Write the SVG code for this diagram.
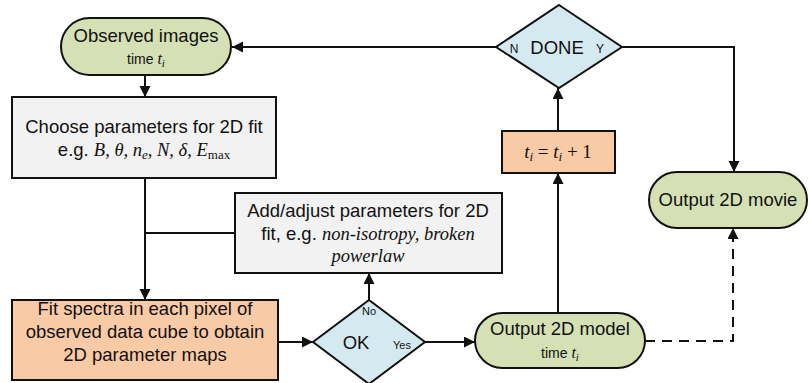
<svg xmlns="http://www.w3.org/2000/svg" width="811" height="383" viewBox="0 0 811 383">
<style>
.sh{stroke:#111;stroke-width:2}
.green{fill:#d5e0b5}
.orange{fill:#f9caa6}
.blue{fill:#d5eaf0}
.grey{fill:#f2f2f2}
text{font-family:"Liberation Sans",Arial,sans-serif;fill:#111;text-anchor:middle}
.t18{font-size:18.5px}
.t13{font-size:14px}
.s{font-family:"Liberation Serif","Times New Roman",serif}
.i{font-family:"Liberation Serif","Times New Roman",serif;font-style:italic}
.c{fill:none;stroke:#111;stroke-width:2}
.d{stroke-dasharray:10,7}
</style>
<defs>
<marker id="ah" markerUnits="userSpaceOnUse" markerWidth="12" markerHeight="12" refX="11" refY="5.5" orient="auto">
<path d="M0,0 L11,5.5 L0,11 z" fill="#111"/>
</marker>
</defs>
<g id="connectors">
<path class="c" d="M496,47 H232" marker-end="url(#ah)"/>
<path class="c" d="M145,75 V97" marker-end="url(#ah)"/>
<path class="c" d="M145,178 V300" marker-end="url(#ah)"/>
<path class="c" d="M145,233 H235"/>
<path class="c" d="M278,342 H313" marker-end="url(#ah)"/>
<path class="c" d="M369,300 V273" marker-end="url(#ah)"/>
<path class="c" d="M425,342 H475" marker-end="url(#ah)"/>
<path class="c" d="M558,313 V173" marker-end="url(#ah)"/>
<path class="c" d="M558,131 V88" marker-end="url(#ah)"/>
<path class="c" d="M622,47 H734 V172" marker-end="url(#ah)"/>
<path class="c d" d="M645,341 H733 V228" marker-end="url(#ah)"/>
</g>
<g id="observed">
<rect class="sh green" x="61" y="18" width="170" height="57" rx="28.5"/>
<text class="t18" x="146" y="42">Observed images</text>
<text class="t13" x="146" y="64">time <tspan class="i" font-size="16">t</tspan><tspan class="i" font-size="11" dy="3">i</tspan></text>
</g>
<g id="choose">
<rect class="sh grey" x="12" y="97" width="264" height="81"/>
<text class="t18" x="144" y="133">Choose parameters for 2D fit</text>
<text class="t18" x="144" y="156">e.g. <tspan class="i">B, θ, n</tspan><tspan class="i" font-size="13" dy="3">e</tspan><tspan class="i" dy="-3">, N, δ, E</tspan><tspan class="s" font-size="13" dy="3">max</tspan></text>
</g>
<g id="adjust">
<rect class="sh grey" x="235" y="193" width="267" height="80"/>
<text class="t18" x="368" y="217">Add/adjust parameters for 2D</text>
<text class="t18" x="368" y="240">fit, e.g. <tspan class="i">non-isotropy, broken</tspan></text>
<text class="t18 i" x="368" y="262">powerlaw</text>
</g>
<g id="fit">
<rect class="sh orange" x="12" y="300" width="266" height="80"/>
<text class="t18" x="145" y="315">Fit spectra in each pixel of</text>
<text class="t18" x="145" y="338">observed data cube to obtain</text>
<text class="t18" x="145" y="361">2D parameter maps</text>
</g>
<g id="ok">
<polygon class="sh blue" points="369,300 425,342 369,384 313,342"/>
<text x="369" y="315" font-size="11">No</text>
<text class="t18" x="356" y="349">OK</text>
<text x="402" y="349" font-size="11">Yes</text>
</g>
<g id="model">
<rect class="sh green" x="475" y="313" width="170" height="55" rx="27.5"/>
<text class="t18" x="560" y="335">Output 2D model</text>
<text class="t13" x="560" y="358">time <tspan class="i" font-size="16">t</tspan><tspan class="i" font-size="11" dy="3">i</tspan></text>
</g>
<g id="increment">
<rect class="sh orange" x="502" y="131" width="113" height="42"/>
<text class="s" x="558" y="158" font-size="19"><tspan class="i">t</tspan><tspan class="i" font-size="13" dy="3">i</tspan><tspan dy="-3"> = </tspan><tspan class="i">t</tspan><tspan class="i" font-size="13" dy="3">i</tspan><tspan dy="-3"> + 1</tspan></text>
</g>
<g id="done">
<polygon class="sh blue" points="559,5 622,47 559,88 496,47"/>
<text x="514" y="53" font-size="12">N</text>
<text class="t18" x="557" y="54">DONE</text>
<text x="600" y="53" font-size="12">Y</text>
</g>
<g id="movie">
<rect class="sh green" x="649" y="172" width="158" height="56" rx="28"/>
<text class="t18" x="728" y="206">Output 2D movie</text>
</g>
</svg>
